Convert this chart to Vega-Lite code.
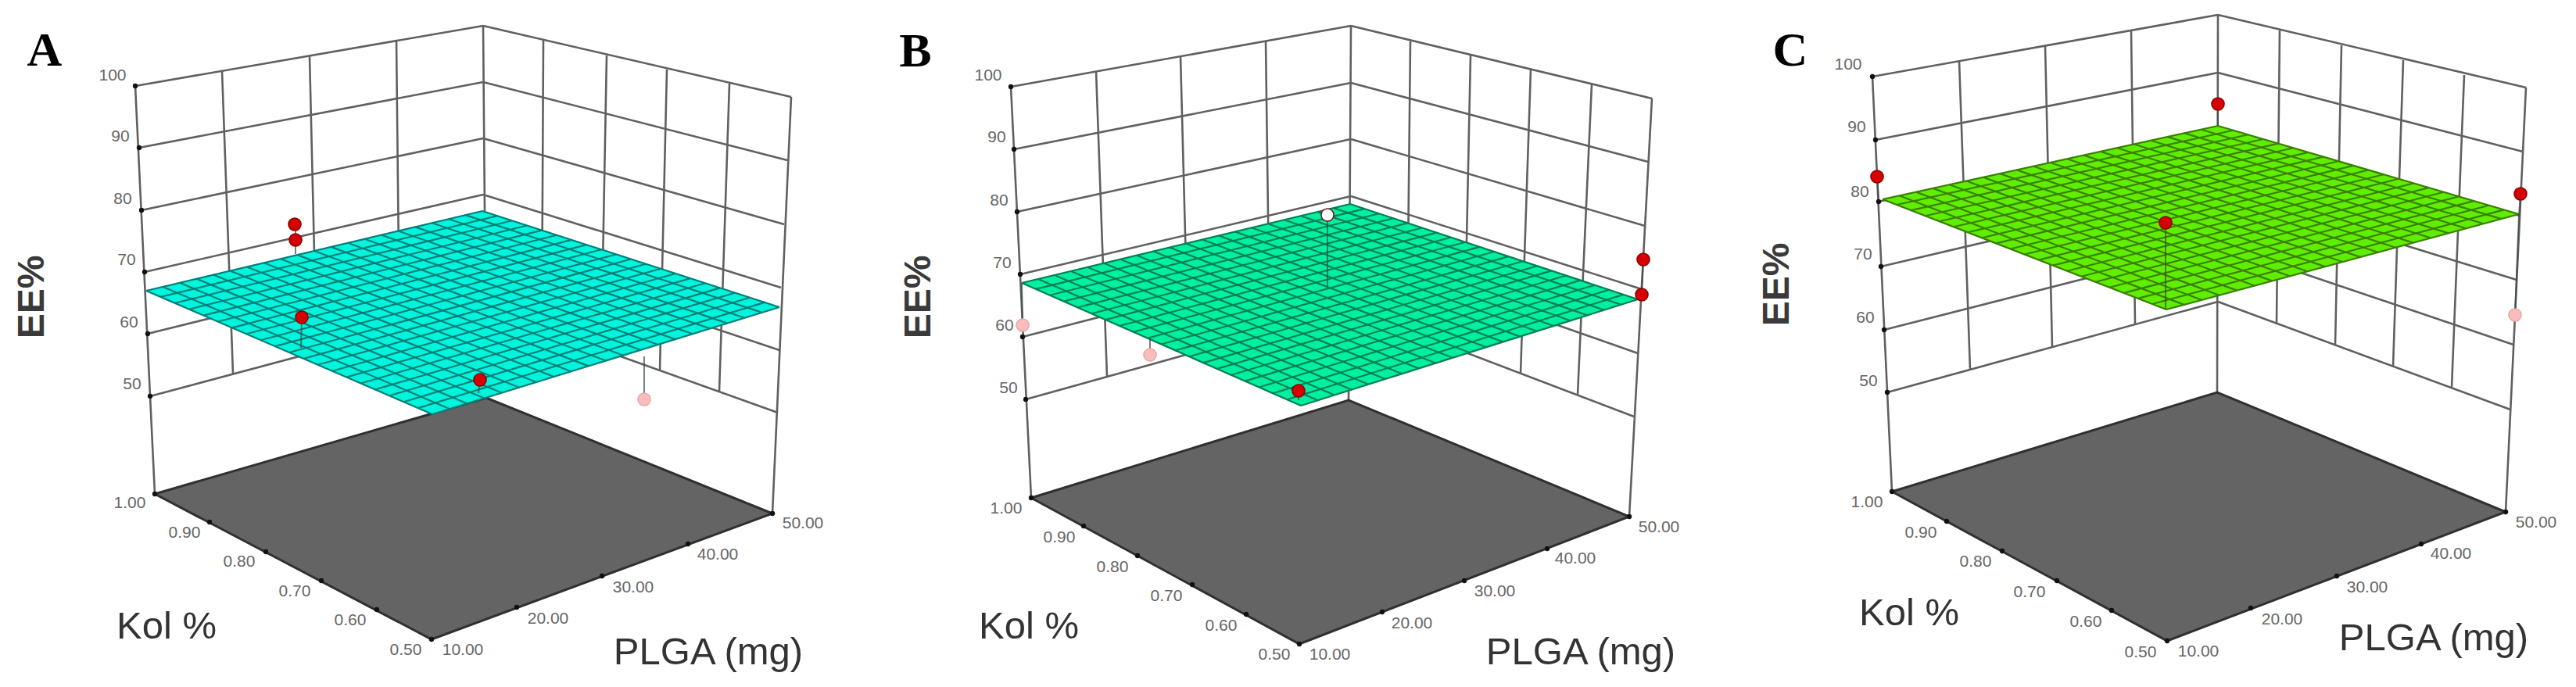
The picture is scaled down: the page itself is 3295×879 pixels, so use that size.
{"$schema":"https://vega.github.io/schema/vega-lite/v6.json","width":3295,"height":879,"autosize":{"type":"fit","contains":"padding"},"padding":0,"background":"white","view":{"stroke":null},
"datasets":{
"walls":[
{"p":"A","x":173,"y":110,"xb":618,"yb":33},{"p":"A","x":178,"y":189,"xb":618,"yb":105},{"p":"A","x":181,"y":269,"xb":618,"yb":177},{"p":"A","x":185,"y":348,"xb":618,"yb":249},{"p":"A","x":189,"y":427,"xb":618,"yb":321},{"p":"A","x":192,"y":507,"xb":618,"yb":393},
{"p":"A","x":618,"y":33,"xb":1012,"yb":124},{"p":"A","x":618,"y":105,"xb":1007,"yb":205},{"p":"A","x":618,"y":177,"xb":1003,"yb":287},{"p":"A","x":618,"y":249,"xb":999,"yb":368},{"p":"A","x":618,"y":321,"xb":997,"yb":448},{"p":"A","x":618,"y":393,"xb":995,"yb":528},
{"p":"A","x":173,"y":110,"xb":198,"yb":632},{"p":"A","x":618,"y":33,"xb":622,"yb":509},{"p":"A","x":1012,"y":124,"xb":988,"yb":657},
{"p":"A","x":284,"y":91,"xb":298,"yb":478},{"p":"A","x":396,"y":72,"xb":405,"yb":450},{"p":"A","x":507,"y":53,"xb":511,"yb":421},
{"p":"A","x":695,"y":52,"xb":693,"yb":420},{"p":"A","x":776,"y":71,"xb":769,"yb":447},{"p":"A","x":853,"y":89,"xb":844,"yb":474},{"p":"A","x":933,"y":107,"xb":920,"yb":501},
{"p":"B","x":1293,"y":111,"xb":1728,"yb":33},{"p":"B","x":1297,"y":191,"xb":1728,"yb":106},{"p":"B","x":1301,"y":271,"xb":1728,"yb":178},{"p":"B","x":1305,"y":351,"xb":1728,"yb":251},{"p":"B","x":1308,"y":431,"xb":1728,"yb":323},{"p":"B","x":1312,"y":511,"xb":1728,"yb":395},
{"p":"B","x":1728,"y":33,"xb":2113,"yb":126},{"p":"B","x":1728,"y":106,"xb":2108,"yb":207},{"p":"B","x":1728,"y":178,"xb":2104,"yb":289},{"p":"B","x":1728,"y":251,"xb":2100,"yb":370},{"p":"B","x":1728,"y":323,"xb":2095,"yb":452},{"p":"B","x":1728,"y":395,"xb":2090,"yb":533},
{"p":"B","x":1293,"y":111,"xb":1319,"yb":637},{"p":"B","x":1728,"y":33,"xb":1725,"yb":512},{"p":"B","x":2113,"y":126,"xb":2084,"yb":661},
{"p":"B","x":1402,"y":91,"xb":1416,"yb":482},{"p":"B","x":1510,"y":72,"xb":1520,"yb":453},{"p":"B","x":1619,"y":52,"xb":1624,"yb":424},
{"p":"B","x":1804,"y":53,"xb":1800,"yb":423},{"p":"B","x":1881,"y":71,"xb":1873,"yb":450},{"p":"B","x":1958,"y":89,"xb":1945,"yb":478},{"p":"B","x":2036,"y":108,"xb":2018,"yb":505},
{"p":"C","x":2395,"y":98,"xb":2837,"yb":19},{"p":"C","x":2399,"y":179,"xb":2837,"yb":93},{"p":"C","x":2403,"y":258,"xb":2837,"yb":166},{"p":"C","x":2406,"y":341,"xb":2837,"yb":240},{"p":"C","x":2410,"y":422,"xb":2837,"yb":313},{"p":"C","x":2414,"y":502,"xb":2837,"yb":386},
{"p":"C","x":2837,"y":19,"xb":3231,"yb":112},{"p":"C","x":2837,"y":93,"xb":3227,"yb":194},{"p":"C","x":2837,"y":166,"xb":3223,"yb":276},{"p":"C","x":2837,"y":240,"xb":3219,"yb":358},{"p":"C","x":2837,"y":313,"xb":3215,"yb":441},{"p":"C","x":2837,"y":386,"xb":3211,"yb":524},
{"p":"C","x":2395,"y":98,"xb":2420,"yb":629},{"p":"C","x":2837,"y":19,"xb":2836,"yb":502},{"p":"C","x":3231,"y":112,"xb":3205,"yb":655},
{"p":"C","x":2506,"y":78,"xb":2520,"yb":473},{"p":"C","x":2616,"y":59,"xb":2625,"yb":444},{"p":"C","x":2726,"y":39,"xb":2731,"yb":415},
{"p":"C","x":2916,"y":39,"xb":2912,"yb":414},{"p":"C","x":2995,"y":58,"xb":2987,"yb":441},{"p":"C","x":3074,"y":77,"xb":3061,"yb":469},{"p":"C","x":3152,"y":96,"xb":3136,"yb":496}],
"floors":[
{"p":"A","i":0,"x":198,"y":632},{"p":"A","i":1,"x":622,"y":509},{"p":"A","i":2,"x":988,"y":657},{"p":"A","i":3,"x":552,"y":818},{"p":"A","i":4,"x":198,"y":632},
{"p":"B","i":0,"x":1319,"y":637},{"p":"B","i":1,"x":1725,"y":512},{"p":"B","i":2,"x":2084,"y":661},{"p":"B","i":3,"x":1662,"y":824},{"p":"B","i":4,"x":1319,"y":637},
{"p":"C","i":0,"x":2420,"y":629},{"p":"C","i":1,"x":2836,"y":502},{"p":"C","i":2,"x":3205,"y":655},{"p":"C","i":3,"x":2772,"y":820},{"p":"C","i":4,"x":2420,"y":629}],
"surfaces":[
{"p":"A","i":0,"x":187,"y":372},{"p":"A","i":1,"x":617,"y":270},{"p":"A","i":2,"x":997,"y":393},{"p":"A","i":3,"x":553,"y":530},{"p":"A","i":4,"x":187,"y":372},
{"p":"B","i":0,"x":1307,"y":362},{"p":"B","i":1,"x":1727,"y":261},{"p":"B","i":2,"x":2095,"y":383},{"p":"B","i":3,"x":1664,"y":519},{"p":"B","i":4,"x":1307,"y":362},
{"p":"C","i":0,"x":2408,"y":255},{"p":"C","i":1,"x":2837,"y":161},{"p":"C","i":2,"x":3222,"y":274},{"p":"C","i":3,"x":2771,"y":396},{"p":"C","i":4,"x":2408,"y":255}],
"mesh":[
{"p":"A","x":187,"y":372,"xb":617,"yb":270},{"p":"A","x":205.3,"y":379.9,"xb":636,"yb":276.2},{"p":"A","x":223.6,"y":387.8,"xb":655,"yb":282.3},{"p":"A","x":241.9,"y":395.7,"xb":674,"yb":288.5},{"p":"A","x":260.2,"y":403.6,"xb":693,"yb":294.6},{"p":"A","x":278.5,"y":411.5,"xb":712,"yb":300.8},{"p":"A","x":296.8,"y":419.4,"xb":731,"yb":306.9},{"p":"A","x":315.1,"y":427.3,"xb":750,"yb":313.1},{"p":"A","x":333.4,"y":435.2,"xb":769,"yb":319.2},{"p":"A","x":351.7,"y":443.1,"xb":788,"yb":325.4},{"p":"A","x":370,"y":451,"xb":807,"yb":331.5},{"p":"A","x":388.3,"y":458.9,"xb":826,"yb":337.7},{"p":"A","x":406.6,"y":466.8,"xb":845,"yb":343.8},{"p":"A","x":424.9,"y":474.7,"xb":864,"yb":350},{"p":"A","x":443.2,"y":482.6,"xb":883,"yb":356.1},{"p":"A","x":461.5,"y":490.5,"xb":902,"yb":362.3},{"p":"A","x":479.8,"y":498.4,"xb":921,"yb":368.4},{"p":"A","x":498.1,"y":506.3,"xb":940,"yb":374.6},{"p":"A","x":516.4,"y":514.2,"xb":959,"yb":380.7},{"p":"A","x":534.7,"y":522.1,"xb":978,"yb":386.9},{"p":"A","x":553,"y":530,"xb":997,"yb":393},
{"p":"A","x":187,"y":372,"xb":553,"yb":530},{"p":"A","x":208.5,"y":366.9,"xb":575.2,"yb":523.2},{"p":"A","x":230,"y":361.8,"xb":597.4,"yb":516.3},{"p":"A","x":251.5,"y":356.7,"xb":619.6,"yb":509.5},{"p":"A","x":273,"y":351.6,"xb":641.8,"yb":502.6},{"p":"A","x":294.5,"y":346.5,"xb":664,"yb":495.8},{"p":"A","x":316,"y":341.4,"xb":686.2,"yb":488.9},{"p":"A","x":337.5,"y":336.3,"xb":708.4,"yb":482.1},{"p":"A","x":359,"y":331.2,"xb":730.6,"yb":475.2},{"p":"A","x":380.5,"y":326.1,"xb":752.8,"yb":468.4},{"p":"A","x":402,"y":321,"xb":775,"yb":461.5},{"p":"A","x":423.5,"y":315.9,"xb":797.2,"yb":454.7},{"p":"A","x":445,"y":310.8,"xb":819.4,"yb":447.8},{"p":"A","x":466.5,"y":305.7,"xb":841.6,"yb":441},{"p":"A","x":488,"y":300.6,"xb":863.8,"yb":434.1},{"p":"A","x":509.5,"y":295.5,"xb":886,"yb":427.3},{"p":"A","x":531,"y":290.4,"xb":908.2,"yb":420.4},{"p":"A","x":552.5,"y":285.3,"xb":930.4,"yb":413.6},{"p":"A","x":574,"y":280.2,"xb":952.6,"yb":406.7},{"p":"A","x":595.5,"y":275.1,"xb":974.8,"yb":399.9},{"p":"A","x":617,"y":270,"xb":997,"yb":393},
{"p":"B","x":1307,"y":362,"xb":1727,"yb":261},{"p":"B","x":1324.9,"y":369.9,"xb":1745.4,"yb":267.1},{"p":"B","x":1342.7,"y":377.7,"xb":1763.8,"yb":273.2},{"p":"B","x":1360.6,"y":385.6,"xb":1782.2,"yb":279.3},{"p":"B","x":1378.4,"y":393.4,"xb":1800.6,"yb":285.4},{"p":"B","x":1396.3,"y":401.3,"xb":1819,"yb":291.5},{"p":"B","x":1414.1,"y":409.1,"xb":1837.4,"yb":297.6},{"p":"B","x":1432,"y":417,"xb":1855.8,"yb":303.7},{"p":"B","x":1449.8,"y":424.8,"xb":1874.2,"yb":309.8},{"p":"B","x":1467.7,"y":432.7,"xb":1892.6,"yb":315.9},{"p":"B","x":1485.5,"y":440.5,"xb":1911,"yb":322},{"p":"B","x":1503.4,"y":448.4,"xb":1929.4,"yb":328.1},{"p":"B","x":1521.2,"y":456.2,"xb":1947.8,"yb":334.2},{"p":"B","x":1539.1,"y":464.1,"xb":1966.2,"yb":340.3},{"p":"B","x":1556.9,"y":471.9,"xb":1984.6,"yb":346.4},{"p":"B","x":1574.8,"y":479.8,"xb":2003,"yb":352.5},{"p":"B","x":1592.6,"y":487.6,"xb":2021.4,"yb":358.6},{"p":"B","x":1610.5,"y":495.5,"xb":2039.8,"yb":364.7},{"p":"B","x":1628.3,"y":503.3,"xb":2058.2,"yb":370.8},{"p":"B","x":1646.2,"y":511.2,"xb":2076.6,"yb":376.9},{"p":"B","x":1664,"y":519,"xb":2095,"yb":383},
{"p":"B","x":1307,"y":362,"xb":1664,"yb":519},{"p":"B","x":1328,"y":357,"xb":1685.6,"yb":512.2},{"p":"B","x":1349,"y":351.9,"xb":1707.1,"yb":505.4},{"p":"B","x":1370,"y":346.9,"xb":1728.7,"yb":498.6},{"p":"B","x":1391,"y":341.8,"xb":1750.2,"yb":491.8},{"p":"B","x":1412,"y":336.8,"xb":1771.8,"yb":485},{"p":"B","x":1433,"y":331.7,"xb":1793.3,"yb":478.2},{"p":"B","x":1454,"y":326.7,"xb":1814.9,"yb":471.4},{"p":"B","x":1475,"y":321.6,"xb":1836.4,"yb":464.6},{"p":"B","x":1496,"y":316.6,"xb":1858,"yb":457.8},{"p":"B","x":1517,"y":311.5,"xb":1879.5,"yb":451},{"p":"B","x":1538,"y":306.5,"xb":1901.1,"yb":444.2},{"p":"B","x":1559,"y":301.4,"xb":1922.6,"yb":437.4},{"p":"B","x":1580,"y":296.4,"xb":1944.2,"yb":430.6},{"p":"B","x":1601,"y":291.3,"xb":1965.7,"yb":423.8},{"p":"B","x":1622,"y":286.3,"xb":1987.3,"yb":417},{"p":"B","x":1643,"y":281.2,"xb":2008.8,"yb":410.2},{"p":"B","x":1664,"y":276.2,"xb":2030.4,"yb":403.4},{"p":"B","x":1685,"y":271.1,"xb":2051.9,"yb":396.6},{"p":"B","x":1706,"y":266.1,"xb":2073.5,"yb":389.8},{"p":"B","x":1727,"y":261,"xb":2095,"yb":383},
{"p":"C","x":2408,"y":255,"xb":2837,"yb":161},{"p":"C","x":2426.2,"y":262,"xb":2856.3,"yb":166.7},{"p":"C","x":2444.3,"y":269.1,"xb":2875.5,"yb":172.3},{"p":"C","x":2462.5,"y":276.2,"xb":2894.8,"yb":178},{"p":"C","x":2480.6,"y":283.2,"xb":2914,"yb":183.6},{"p":"C","x":2498.8,"y":290.3,"xb":2933.3,"yb":189.3},{"p":"C","x":2516.9,"y":297.3,"xb":2952.5,"yb":194.9},{"p":"C","x":2535.1,"y":304.4,"xb":2971.8,"yb":200.6},{"p":"C","x":2553.2,"y":311.4,"xb":2991,"yb":206.2},{"p":"C","x":2571.4,"y":318.5,"xb":3010.3,"yb":211.9},{"p":"C","x":2589.5,"y":325.5,"xb":3029.5,"yb":217.5},{"p":"C","x":2607.7,"y":332.6,"xb":3048.8,"yb":223.2},{"p":"C","x":2625.8,"y":339.6,"xb":3068,"yb":228.8},{"p":"C","x":2644,"y":346.7,"xb":3087.3,"yb":234.5},{"p":"C","x":2662.1,"y":353.7,"xb":3106.5,"yb":240.1},{"p":"C","x":2680.3,"y":360.8,"xb":3125.8,"yb":245.8},{"p":"C","x":2698.4,"y":367.8,"xb":3145,"yb":251.4},{"p":"C","x":2716.6,"y":374.9,"xb":3164.3,"yb":257.1},{"p":"C","x":2734.7,"y":381.9,"xb":3183.5,"yb":262.7},{"p":"C","x":2752.9,"y":389,"xb":3202.8,"yb":268.4},{"p":"C","x":2771,"y":396,"xb":3222,"yb":274},
{"p":"C","x":2408,"y":255,"xb":2771,"yb":396},{"p":"C","x":2429.5,"y":250.3,"xb":2793.6,"yb":389.9},{"p":"C","x":2450.9,"y":245.6,"xb":2816.1,"yb":383.8},{"p":"C","x":2472.4,"y":240.9,"xb":2838.7,"yb":377.7},{"p":"C","x":2493.8,"y":236.2,"xb":2861.2,"yb":371.6},{"p":"C","x":2515.3,"y":231.5,"xb":2883.8,"yb":365.5},{"p":"C","x":2536.7,"y":226.8,"xb":2906.3,"yb":359.4},{"p":"C","x":2558.2,"y":222.1,"xb":2928.9,"yb":353.3},{"p":"C","x":2579.6,"y":217.4,"xb":2951.4,"yb":347.2},{"p":"C","x":2601.1,"y":212.7,"xb":2974,"yb":341.1},{"p":"C","x":2622.5,"y":208,"xb":2996.5,"yb":335},{"p":"C","x":2644,"y":203.3,"xb":3019.1,"yb":328.9},{"p":"C","x":2665.4,"y":198.6,"xb":3041.6,"yb":322.8},{"p":"C","x":2686.9,"y":193.9,"xb":3064.2,"yb":316.7},{"p":"C","x":2708.3,"y":189.2,"xb":3086.7,"yb":310.6},{"p":"C","x":2729.8,"y":184.5,"xb":3109.3,"yb":304.5},{"p":"C","x":2751.2,"y":179.8,"xb":3131.8,"yb":298.4},{"p":"C","x":2772.7,"y":175.1,"xb":3154.4,"yb":292.3},{"p":"C","x":2794.1,"y":170.4,"xb":3176.9,"yb":286.2},{"p":"C","x":2815.6,"y":165.7,"xb":3199.5,"yb":280.1},{"p":"C","x":2837,"y":161,"xb":3222,"yb":274}],
"stems":[
{"p":"A","x":378,"y":287,"xb":378,"yb":325},{"p":"A","x":386,"y":406,"xb":385,"yb":445},{"p":"A","x":614,"y":486,"xb":612,"yb":503},{"p":"A","x":824,"y":511,"xb":824,"yb":456},
{"p":"B","x":1698,"y":275,"xb":1698,"yb":367},{"p":"B","x":2102,"y":332,"xb":2100,"yb":377},{"p":"B","x":1661,"y":500,"xb":1661,"yb":512},{"p":"B","x":1471,"y":454,"xb":1471,"yb":434},{"p":"B","x":1308,"y":416,"xb":1307,"yb":362},
{"p":"C","x":2401,"y":226,"xb":2403,"yb":254},{"p":"C","x":2837,"y":133,"xb":2837,"yb":161},{"p":"C","x":2770,"y":285,"xb":2770,"yb":395},{"p":"C","x":3224,"y":248,"xb":3222,"yb":275},{"p":"C","x":3217,"y":403,"xb":3222,"yb":275}],
"ticks":[
{"x":173,"y":110},{"x":178,"y":189},{"x":181,"y":269},{"x":185,"y":348},{"x":189,"y":427},{"x":192,"y":507},{"x":198,"y":632},{"x":268,"y":668},{"x":340,"y":706},{"x":411,"y":743},{"x":482,"y":780},{"x":552,"y":818},{"x":661,"y":777},{"x":770,"y":737},{"x":880,"y":696},{"x":988,"y":657},
{"x":1293,"y":111},{"x":1297,"y":191},{"x":1301,"y":271},{"x":1305,"y":351},{"x":1308,"y":431},{"x":1312,"y":511},{"x":1319,"y":637},{"x":1386,"y":673},{"x":1455,"y":711},{"x":1525,"y":748},{"x":1594,"y":786},{"x":1662,"y":824},{"x":1768,"y":783},{"x":1873,"y":743},{"x":1979,"y":702},{"x":2084,"y":661},
{"x":2395,"y":98},{"x":2399,"y":179},{"x":2403,"y":258},{"x":2406,"y":341},{"x":2410,"y":422},{"x":2414,"y":502},{"x":2420,"y":629},{"x":2490,"y":667},{"x":2561,"y":705},{"x":2631,"y":743},{"x":2701,"y":781},{"x":2772,"y":820},{"x":2879,"y":778},{"x":2989,"y":737},{"x":3097,"y":696},{"x":3205,"y":655}],
"runs":[
{"p":"A","kind":"above","x":377,"y":287},{"p":"A","kind":"above","x":378,"y":307},{"p":"A","kind":"above","x":386,"y":406},{"p":"A","kind":"above","x":614,"y":486},{"p":"A","kind":"below","x":824,"y":511},
{"p":"B","kind":"near","x":1698,"y":275},{"p":"B","kind":"above","x":2102,"y":332},{"p":"B","kind":"above","x":2100,"y":377},{"p":"B","kind":"above","x":1661,"y":500},{"p":"B","kind":"below","x":1308,"y":416},{"p":"B","kind":"below","x":1471,"y":454},
{"p":"C","kind":"above","x":2401,"y":226},{"p":"C","kind":"above","x":2837,"y":133},{"p":"C","kind":"above","x":2770,"y":285},{"p":"C","kind":"above","x":3224,"y":248},{"p":"C","kind":"below","x":3217,"y":403}],
"ticklabels":[
{"t":"100","x":144,"y":97},{"t":"90","x":154,"y":175},{"t":"80","x":157,"y":255},{"t":"70","x":162,"y":333},{"t":"60","x":165,"y":413},{"t":"50","x":169,"y":492},
{"t":"1.00","x":166,"y":644},{"t":"0.90","x":236,"y":682},{"t":"0.80","x":306,"y":719},{"t":"0.70","x":377,"y":757},{"t":"0.60","x":448,"y":794},{"t":"0.50","x":519,"y":832},
{"t":"10.00","x":592,"y":832},{"t":"20.00","x":701,"y":792},{"t":"30.00","x":810,"y":752},{"t":"40.00","x":918,"y":710},{"t":"50.00","x":1027,"y":670},
{"t":"100","x":1264,"y":97},{"t":"90","x":1275,"y":176},{"t":"80","x":1278,"y":257},{"t":"70","x":1282,"y":337},{"t":"60","x":1285,"y":417},{"t":"50","x":1290,"y":497},
{"t":"1.00","x":1287,"y":651},{"t":"0.90","x":1355,"y":688},{"t":"0.80","x":1423,"y":726},{"t":"0.70","x":1492,"y":763},{"t":"0.60","x":1562,"y":801},{"t":"0.50","x":1630,"y":838},
{"t":"10.00","x":1701,"y":838},{"t":"20.00","x":1806,"y":798},{"t":"30.00","x":1912,"y":757},{"t":"40.00","x":2015,"y":715},{"t":"50.00","x":2122,"y":675},
{"t":"100","x":2364,"y":83},{"t":"90","x":2375,"y":163},{"t":"80","x":2379,"y":246},{"t":"70","x":2383,"y":326},{"t":"60","x":2386,"y":407},{"t":"50","x":2390,"y":488},
{"t":"1.00","x":2388,"y":643},{"t":"0.90","x":2457,"y":682},{"t":"0.80","x":2527,"y":719},{"t":"0.70","x":2596,"y":758},{"t":"0.60","x":2668,"y":796},{"t":"0.50","x":2738,"y":835},
{"t":"10.00","x":2812,"y":834},{"t":"20.00","x":2919,"y":793},{"t":"30.00","x":3028,"y":752},{"t":"40.00","x":3135,"y":709},{"t":"50.00","x":3244,"y":669}],
"titles":[
{"t":"Kol %","x":213,"y":802},{"t":"PLGA (mg)","x":906,"y":835},{"t":"Kol %","x":1316,"y":802},{"t":"PLGA (mg)","x":2022,"y":835},{"t":"Kol %","x":2442,"y":785},{"t":"PLGA (mg)","x":3113,"y":817}],
"ee":[{"t":"EE%","x":42,"y":380},{"t":"EE%","x":1176,"y":380},{"t":"EE%","x":2274,"y":364}],
"letters":[{"t":"A","x":57,"y":65},{"t":"B","x":1171,"y":66},{"t":"C","x":2290,"y":65}]
},
"encoding":{
"x":{"field":"x","type":"quantitative","axis":null,"scale":{"domain":[0,3295],"nice":false,"zero":false}},
"y":{"field":"y","type":"quantitative","axis":null,"scale":{"domain":[879,0],"nice":false,"zero":false}}},
"layer":[
{"data":{"name":"walls"},"mark":{"type":"rule","stroke":"#606060","strokeWidth":2.6},"encoding":{"x2":{"field":"xb"},"y2":{"field":"yb"}}},
{"data":{"name":"floors"},"mark":{"type":"line","fill":"#646464","stroke":"#303030","strokeWidth":3},"encoding":{"detail":{"field":"p"},"order":{"field":"i","type":"quantitative"}}},
{"data":{"name":"surfaces"},"mark":{"type":"line","strokeWidth":1},"encoding":{"detail":{"field":"p"},"order":{"field":"i","type":"quantitative"},"fill":{"field":"p","type":"nominal","legend":null,"scale":{"domain":["A","B","C"],"range":["#00f5dc","#00f0a0","#60ee00"]}},"stroke":{"field":"p","type":"nominal","legend":null,"scale":{"domain":["A","B","C"],"range":["#00807a","#008058","#3a8000"]}}}},
{"data":{"name":"mesh"},"mark":{"type":"rule","strokeWidth":2.2},"encoding":{"x2":{"field":"xb"},"y2":{"field":"yb"},"stroke":{"field":"p","type":"nominal","legend":null,"scale":{"domain":["A","B","C"],"range":["#00807a","#008058","#3a8000"]}}}},
{"data":{"name":"stems"},"mark":{"type":"rule","stroke":"#3a4a40","strokeWidth":2,"opacity":0.7},"encoding":{"x2":{"field":"xb"},"y2":{"field":"yb"}}},
{"data":{"name":"ticks"},"mark":{"type":"circle","color":"#111111","size":40,"opacity":1}},
{"data":{"name":"runs"},"mark":{"type":"point","filled":true,"size":260,"opacity":1},"encoding":{"fill":{"field":"kind","type":"nominal","legend":null,"scale":{"domain":["above","below","near"],"range":["#d60000","#fbbcbc","#ffffff"]}},"stroke":{"field":"kind","type":"nominal","legend":null,"scale":{"domain":["above","below","near"],"range":["#8a0000","#e8a8a8","#7a1010"]}},"strokeWidth":{"field":"kind","type":"nominal","legend":null,"scale":{"domain":["above","below","near"],"range":[1.5,1.5,3.5]}}}},
{"data":{"name":"ticklabels"},"mark":{"type":"text","font":"Liberation Sans","fontSize":21,"color":"#666666","align":"center","baseline":"middle"},"encoding":{"text":{"field":"t"}}},
{"data":{"name":"titles"},"mark":{"type":"text","font":"Liberation Sans","fontSize":49,"color":"#333333","align":"center","baseline":"middle"},"encoding":{"text":{"field":"t"}}},
{"data":{"name":"ee"},"mark":{"type":"text","font":"Liberation Sans","fontSize":48,"fontWeight":"bold","color":"#3a3a3a","align":"center","baseline":"middle","angle":270},"encoding":{"text":{"field":"t"}}},
{"data":{"name":"letters"},"mark":{"type":"text","font":"Liberation Serif","fontSize":62,"fontWeight":"bold","color":"#000000","align":"center","baseline":"middle"},"encoding":{"text":{"field":"t"}}}
],
"resolve":{"scale":{"fill":"independent","stroke":"independent"}}}
